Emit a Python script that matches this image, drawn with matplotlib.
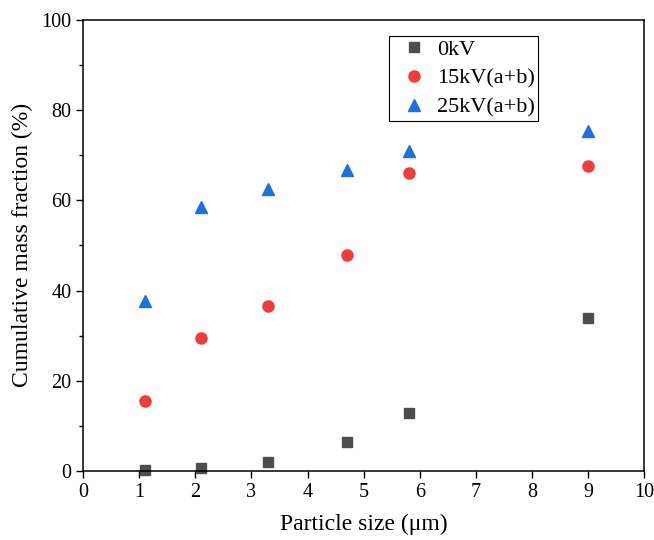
import matplotlib.pyplot as plt
from matplotlib.ticker import MultipleLocator

plt.rcParams['font.family'] = ['Liberation Serif', 'DejaVu Serif']
plt.rcParams['mathtext.fontset'] = 'stix'

# particle sizes (um)
size = [1.1, 2.1, 3.3, 4.7, 5.8, 9.0]
kv0 = [0.2, 0.6, 2.0, 6.4, 12.9, 33.9]
kv15 = [15.5, 29.5, 36.6, 47.9, 66.1, 67.6]
kv25 = [37.6, 58.5, 62.6, 66.7, 71.0, 75.3]

fig = plt.figure(figsize=(6.54, 5.40), dpi=100)
ax = fig.add_axes([0.127, 0.128, 0.858, 0.835])

ax.plot(size, kv0, 's', color='#4d4d4d', ms=7.5, label='0kV', clip_on=False)
ax.plot(size, kv15, 'o', color='#ef3b3b', ms=8, label='15kV(a+b)', clip_on=False)
ax.plot(size, kv25, '^', color='#1f6fe0', ms=8.5, label='25kV(a+b)', clip_on=False)

ax.set_xlim(0, 10)
ax.set_ylim(0, 100)
ax.xaxis.set_major_locator(MultipleLocator(1))
ax.yaxis.set_major_locator(MultipleLocator(20))
ax.yaxis.set_minor_locator(MultipleLocator(10))
ax.tick_params(which='major', direction='out', length=5, width=1, labelsize=14.5)
ax.tick_params(which='minor', direction='out', length=3, width=1)
for s in ax.spines.values():
    s.set_linewidth(1.1)

ax.set_xlabel('Particle size (μm)', fontsize=17, labelpad=9)
ax.set_ylabel('Cumulative mass fraction (%)', fontsize=17, labelpad=6)

leg = ax.legend(loc='upper left', bbox_to_anchor=(0.545, 0.965), fontsize=16,
                borderaxespad=0, fancybox=False, edgecolor='black', framealpha=1,
                handlelength=2.0, handletextpad=0.0, borderpad=0.15, labelspacing=0.38)
leg.get_frame().set_linewidth(0.8)

fig.savefig('out.png', dpi=100)
